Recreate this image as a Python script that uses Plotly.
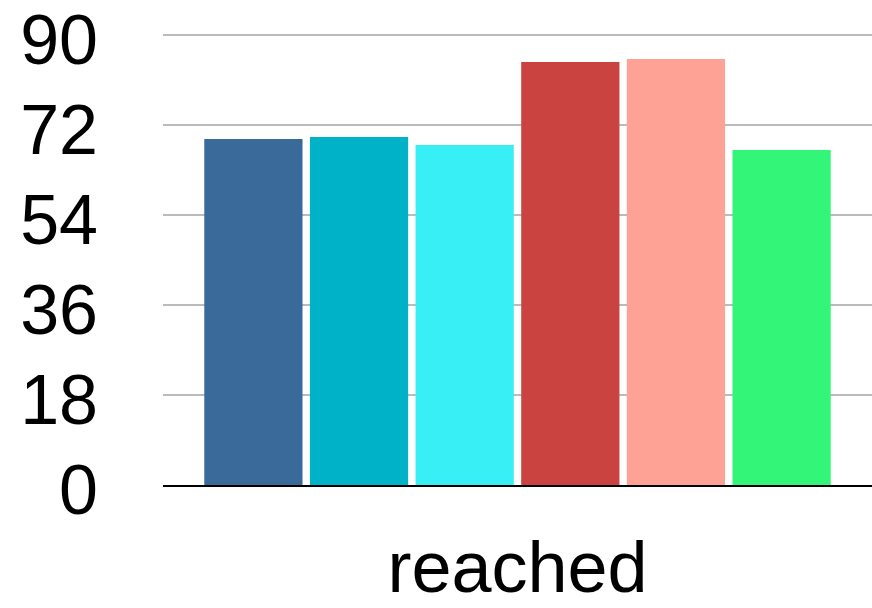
import plotly.graph_objects as go

categories = ["reached"]
series_names = ["s1", "s2", "s3", "s4", "s5", "s6"]
series_values = [[69.2], [69.6], [68.0], [84.6], [85.2], [67.0]]
colors = ["#3A6A9A", "#00B2C8", "#37EFF5", "#CB4340", "#FFA296", "#33F577"]
y_ticks = [0, 18, 36, 54, 72, 90]

fig = go.Figure()
for name, vals, c in zip(series_names, series_values, colors):
    fig.add_trace(go.Bar(x=categories, y=vals, name=name, marker=dict(color=c, line=dict(width=0))))

fig.update_layout(
    width=872, height=608,
    margin=dict(l=163, r=0, t=25, b=123, pad=0, autoexpand=False),
    barmode="group", bargap=0.106, bargroupgap=0.07,
    showlegend=False,
    plot_bgcolor="white", paper_bgcolor="white",
    font=dict(family="Liberation Sans, Arial, sans-serif", color="black", size=72),
)
fig.update_yaxes(
    range=[0, 92], tickmode="array", tickvals=y_ticks, ticktext=[str(v) for v in y_ticks],
    showgrid=True, gridcolor="#BBBBBB", gridwidth=2,
    zeroline=False, showline=False, automargin=False,
    ticks="outside", ticklen=50, tickcolor="rgba(0,0,0,0)",
    ticklabeloverflow="allow", ticklabelshift=4,
    tickfont=dict(size=70),
)
fig.update_xaxes(
    showline=True, linecolor="black", linewidth=2, automargin=False,
    ticks="outside", ticklen=19, tickcolor="rgba(0,0,0,0)",
    tickfont=dict(size=72),
)
fig.write_html("out.html")
